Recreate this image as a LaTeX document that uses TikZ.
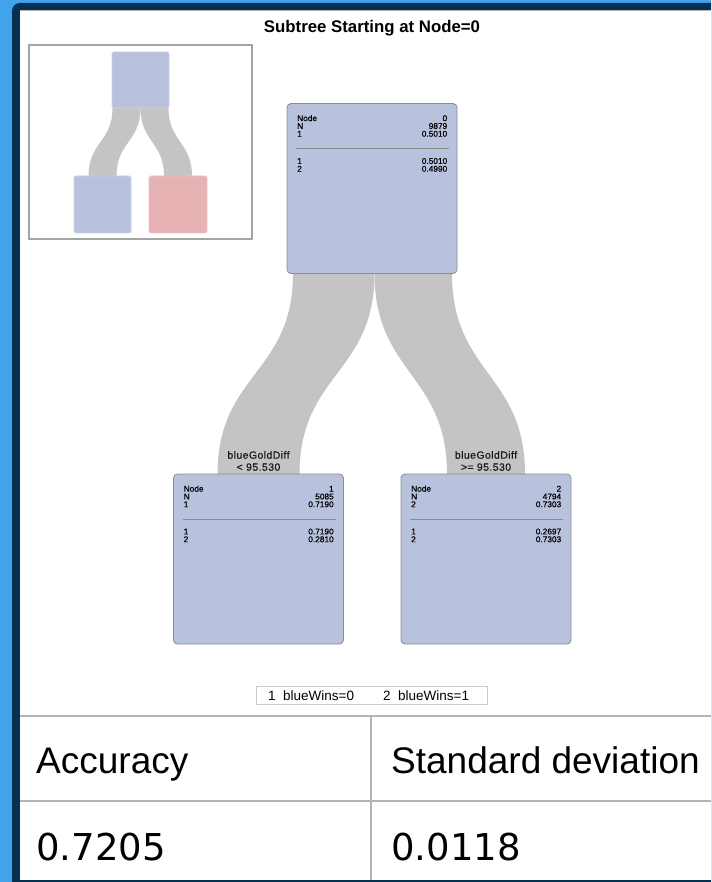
\documentclass[tikz,border=0pt]{standalone}
\usepackage{fontspec}
\setmainfont{Liberation Sans}
\newfontfamily\dejavu{DejaVu Sans}
\newfontfamily\nodefont[FakeBold=0.6]{Liberation Sans}
\newfontfamily\lblfont[FakeBold=0.4,LetterSpace=4]{Liberation Sans}
\usetikzlibrary{calc}
\pgfdeclarelayer{bg}
\pgfdeclarelayer{bands}
\pgfsetlayers{bg,bands,main}
\definecolor{pageblue}{HTML}{41A3EC}
\definecolor{navy}{HTML}{06304F}
\definecolor{nodefill}{HTML}{B9C2DD}
\definecolor{nodeline}{HTML}{8C8C8C}
\definecolor{bandgrey}{HTML}{C4C4C4}
\definecolor{pinkfill}{HTML}{E6B2B4}
\definecolor{rulegrey}{HTML}{B4B4B4}
\definecolor{legendgrey}{HTML}{CCCCCC}
\definecolor{thumbline}{HTML}{A4A4A4}
\newcommand\smalltxt{\nodefont\fontsize{8.3}{6.6}\selectfont}
\newcommand\tabfont{\fontsize{37}{40}\selectfont}
\tikzset{
  treebox/.style={draw=nodeline, line width=0.8pt, fill=nodefill, rounded corners=4pt,
    minimum width=170pt, minimum height=170pt, inner sep=0pt, outer sep=0pt},
  infotab/.style={anchor=north west, inner sep=0pt, font=\smalltxt, text=black},
  splitlbl/.style={font=\lblfont\fontsize{10.5}{12}\selectfont, align=center, anchor=south,
    inner sep=0pt, text=black!90},
  thumbbox/.style={rounded corners=1.5pt, draw=white!25!#1, fill=#1, line width=0.6pt,
    inner sep=0pt, outer sep=0pt},
  tabtext/.style={anchor=base west, inner sep=0pt, font=\tabfont},
  legtext/.style={anchor=base west, inner sep=0pt, font=\fontsize{13.5}{14}\selectfont},
}
\newcommand\treeinfo[7]{%
  \node[infotab] (#1-top) at ($(#1.north west)+(10,11.4)$)
    {\begin{tabular*}{150pt}{@{}l@{\extracolsep{\fill}}r@{}}Node&#2\\N&#3\\#4&#5\end{tabular*}};
  \draw[nodeline, line width=0.8pt] ($(#1.north west)+(9,45)$) -- ($(#1.north east)+(-8,45)$);
  \node[infotab] (#1-bot) at ($(#1.north west)+(10,54.4)$)
    {\begin{tabular*}{150pt}{@{}l@{\extracolsep{\fill}}r@{}}1&#6\\2&#7\end{tabular*}};
}
\begin{document}
\begin{tikzpicture}[x=1pt,y=-1pt]
\useasboundingbox (0,0) rectangle (711,882);
\begin{pgfonlayer}{bg}
  \begin{scope}
    \clip (0,0) rectangle (711,882);
    \fill[pageblue] (0,0) rectangle (711,882);
    \fill[navy, rounded corners=8pt] (12,3) rectangle (740,900);
    \fill[white] (20,10) rectangle (711,880);
    \draw[gray!55, line width=0.8pt] (20,10.4) -- (711,10.4);
  \end{scope}
\end{pgfonlayer}

% title
\node[font=\bfseries\fontsize{16.8}{17}\selectfont, anchor=base, inner sep=0pt] (title) at (372,33) {Subtree Starting at Node=0};

% thumbnail
\node[draw=thumbline, line width=1.1pt, minimum width=223pt, minimum height=194pt, inner sep=0pt] (thumb) at (140.5,142) {};
\node[thumbbox=nodefill, minimum width=57pt, minimum height=56pt] (tTop) at (140.5,80) {};
\node[thumbbox=nodefill, minimum width=57pt, minimum height=57pt] (tL) at (102.5,204.5) {};
\node[thumbbox=pinkfill, minimum width=58pt, minimum height=57pt] (tR) at (178,204.5) {};
\begin{pgfonlayer}{bands}
  \coordinate (tlA) at ($(tTop.south)+(-28,0)$);
  \coordinate (tlB) at (tTop.south);
  \coordinate (tlC) at ($(tL.north)+(14,0)$);
  \coordinate (tlD) at ($(tL.north)+(-14,0)$);
  \fill[bandgrey] (tlA) .. controls ($(tlA)+(0,34)$) and ($(tlD)+(0,-34)$) .. (tlD) -- (tlC)
     .. controls ($(tlC)+(0,-34)$) and ($(tlB)+(0,34)$) .. (tlB) -- cycle;
  \coordinate (trA) at (tTop.south);
  \coordinate (trB) at ($(tTop.south)+(28,0)$);
  \coordinate (trC) at ($(tR.north)+(14,0)$);
  \coordinate (trD) at ($(tR.north)+(-14,0)$);
  \fill[bandgrey] (trA) .. controls ($(trA)+(0,34)$) and ($(trD)+(0,-34)$) .. (trD) -- (trC)
     .. controls ($(trC)+(0,-34)$) and ($(trB)+(0,34)$) .. (trB) -- cycle;
\end{pgfonlayer}

% main tree
\node[treebox] (root) at (372,188.5) {};
\node[treebox] (left) at (258.5,559) {};
\node[treebox] (right) at (486,559) {};
\treeinfo{root}{0}{9879}{1}{0.5010}{0.5010}{0.4990}
\treeinfo{left}{1}{5085}{1}{0.7190}{0.7190}{0.2810}
\treeinfo{right}{2}{4794}{2}{0.7303}{0.2697}{0.7303}

\begin{pgfonlayer}{bands}
  \coordinate (lbA) at ($(root.south west)+(6,0)$);
  \coordinate (lbB) at ($(root.south west)+(87.5,0)$);
  \coordinate (lbC) at ($(left.north)+(41,0)$);
  \coordinate (lbD) at ($(left.north)+(-41,0)$);
  \fill[bandgrey] (lbA) .. controls ($(lbA)+(0,100)$) and ($(lbD)+(0,-100)$) .. (lbD) -- (lbC)
     .. controls ($(lbC)+(0,-100)$) and ($(lbB)+(0,100)$) .. (lbB) -- cycle;
  \coordinate (rbA) at ($(root.south west)+(87.5,0)$);
  \coordinate (rbB) at ($(root.south east)+(-5,0)$);
  \coordinate (rbC) at ($(right.north)+(39,0)$);
  \coordinate (rbD) at ($(right.north)+(-39,0)$);
  \fill[bandgrey] (rbA) .. controls ($(rbA)+(0,100)$) and ($(rbD)+(0,-100)$) .. (rbD) -- (rbC)
     .. controls ($(rbC)+(0,-100)$) and ($(rbB)+(0,100)$) .. (rbB) -- cycle;
\end{pgfonlayer}

\node[splitlbl] (lblL) at ($(left.north)+(0,-3)$) {blueGoldDiff\\< 95.530};
\node[splitlbl] (lblR) at ($(right.north)+(0,-3)$) {blueGoldDiff\\>= 95.530};

% legend
\node[draw=legendgrey, line width=0.8pt, minimum width=231pt, minimum height=18pt, inner sep=0pt] (legend) at (371.5,695) {};
\node[legtext] (leg1) at (268,700) {1\ \ blueWins=0};
\node[legtext] (leg2) at (383,700) {2\ \ blueWins=1};

% table
\draw[rulegrey, line width=1.5pt] (20,716) -- (711,716);
\draw[rulegrey, line width=1.5pt] (20,801) -- (711,801);
\draw[rulegrey, line width=1.5pt] (371,716) -- (371,880);
\node[tabtext] (acc) at (36,773) {Accuracy};
\node[tabtext] (std) at (391,773) {Standard deviation};
\node[tabtext, font=\dejavu\tabfont] (accv) at (36,860) {0.7205};
\node[tabtext, font=\dejavu\tabfont] (stdv) at (391,860) {0.0118};
\end{tikzpicture}
\end{document}
